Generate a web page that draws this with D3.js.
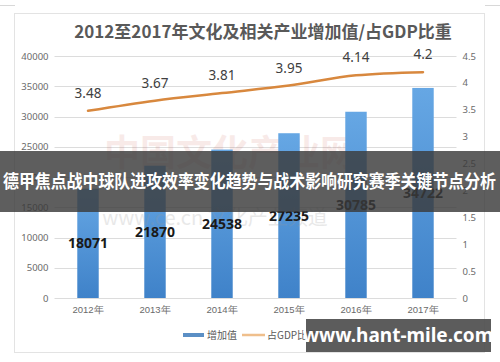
<!DOCTYPE html>
<html>
<head>
<meta charset="utf-8">
<script src="https://cdn.jsdelivr.net/npm/d3@7"></script>
<style>
html,body{margin:0;padding:0;background:#fff;}
svg{display:block;font-family:"Noto Sans CJK SC","Noto Sans",sans-serif;}
</style>
</head>
<body>
<svg id="chart" width="500" height="362"></svg>
<script>
const years = ["2012年","2013年","2014年","2015年","2016年","2017年"];
const addedValue = [18071,21870,24538,27235,30785,34722];
const gdpShare = [3.48,3.67,3.81,3.95,4.14,4.2];
const leftTicks = [0,5000,10000,15000,20000,25000,30000,35000,40000];
const rightTicks = [0,0.5,1,1.5,2,2.5,3,3.5,4,4.5];
const title = "2012至2017年文化及相关产业增加值/占GDP比重";
const legendLabels = ["增加值","占GDP比重"];
const bannerText = "德甲焦点战中球队进攻效率变化趋势与战术影响研究赛季关键节点分析";
const siteText = "www.hant-mile.com";

const svg = d3.select("#chart");
const W = 500, H = 362;
const plot = {left:54.5, right:456.5, top:56, bottom:298};

const defs = svg.append("defs");
const grad = defs.append("linearGradient").attr("id","barGrad").attr("x1",0).attr("y1",0).attr("x2",0).attr("y2",1);
grad.append("stop").attr("offset","0%").attr("stop-color","#66a7e4");
grad.append("stop").attr("offset","100%").attr("stop-color","#3f82c9");

// frame
svg.append("rect").attr("x",14.5).attr("y",13.5).attr("width",470).attr("height",339)
  .attr("fill","#fff").attr("stroke","#e3e3e3");
svg.append("line").attr("x1",0).attr("x2",15).attr("y1",5.5).attr("y2",5.5).attr("stroke","#d8d8d8");
svg.append("line").attr("x1",485).attr("x2",500).attr("y1",5.5).attr("y2",5.5).attr("stroke","#d8d8d8");

const x = d3.scaleBand().domain(years).range([plot.left, plot.right]).paddingInner(0.68).paddingOuter(0.34);
const yL = d3.scaleLinear().domain([0,40000]).range([plot.bottom, plot.top]);
const yR = d3.scaleLinear().domain([0,4.5]).range([plot.bottom, plot.top]);

svg.append("text").attr("x",263).attr("y",38).attr("text-anchor","middle")
  .attr("font-size",17).attr("font-weight","bold").attr("fill","#595959").text(title);

svg.append("g").selectAll("line").data(leftTicks).join("line")
  .attr("x1",plot.left).attr("x2",plot.right)
  .attr("y1",d=>Math.round(yL(d))+0.5).attr("y2",d=>Math.round(yL(d))+0.5)
  .attr("stroke","#dcdcdc").attr("stroke-width",1);

const axL = svg.append("g").attr("transform",`translate(${plot.left-6},0)`)
  .call(d3.axisLeft(yL).tickValues(leftTicks).tickSize(0).tickPadding(0).tickFormat(d3.format("d")));
axL.select(".domain").remove();
axL.selectAll("text").attr("font-size",9.5).attr("fill","#6a6a6a").attr("font-family","'Noto Sans',sans-serif");

const axR = svg.append("g").attr("transform",`translate(${plot.right+6},0)`)
  .call(d3.axisRight(yR).tickValues(rightTicks).tickSize(0).tickPadding(0).tickFormat(d3.format("")));
axR.select(".domain").remove();
axR.selectAll("text").attr("font-size",9.5).attr("fill","#6a6a6a").attr("font-family","'Noto Sans',sans-serif");

const axX = svg.append("g").attr("transform",`translate(0,${plot.bottom+6})`)
  .call(d3.axisBottom(x).tickSize(0).tickPadding(2));
axX.select(".domain").remove();
axX.selectAll("text").attr("font-size",9.5).attr("fill","#6a6a6a");

// faint watermark
svg.append("text").attr("x",230).attr("y",166).attr("text-anchor","middle")
  .attr("font-size",36).attr("font-weight","bold").attr("fill","#c0392b").attr("opacity",0.1).text("中国文化产业网");

svg.append("g").selectAll("rect").data(addedValue).join("rect")
  .attr("x",(d,i)=>x(years[i])).attr("width",x.bandwidth())
  .attr("y",d=>yL(d)).attr("height",d=>plot.bottom-yL(d))
  .attr("fill","url(#barGrad)");

svg.append("text").attr("x",215).attr("y",225).attr("text-anchor","middle")
  .attr("font-size",20).attr("fill","#9a9a9a").attr("opacity",0.22).text("www.ce.cn 文化产业频道");

svg.append("g").selectAll("text").data(addedValue).join("text")
  .attr("x",(d,i)=>x(years[i])+x.bandwidth()/2)
  .attr("y",d=>yL(d/2)+5)
  .attr("text-anchor","middle").attr("font-size",14).attr("font-weight","bold")
  .attr("fill","#1a1a1a").attr("font-family","'Noto Sans',sans-serif")
  .text(d=>d);

const line = d3.line().x((d,i)=>x(years[i])+x.bandwidth()/2).y(d=>yR(d)).curve(d3.curveMonotoneX);
svg.append("path").datum(gdpShare).attr("d",line).attr("fill","none")
  .attr("stroke","#d8883e").attr("stroke-width",2.5).attr("stroke-linecap","round");

svg.append("g").selectAll("text").data(gdpShare).join("text")
  .attr("x",(d,i)=>x(years[i])+x.bandwidth()/2)
  .attr("y",d=>yR(d)-13)
  .attr("text-anchor","middle").attr("font-size",13.5).attr("fill","#404040")
  .attr("font-family","'Noto Sans',sans-serif")
  .text(d=>d);

const lg = svg.append("g");
lg.append("rect").attr("x",183).attr("y",333).attr("width",21).attr("height",4).attr("fill","#5b8fc5");
lg.append("text").attr("x",207).attr("y",339).attr("font-size",10).attr("fill","#595959").text(legendLabels[0]);
lg.append("line").attr("x1",242).attr("x2",265).attr("y1",335).attr("y2",335).attr("stroke","#efbf8c").attr("stroke-width",2.5);
lg.append("text").attr("x",267).attr("y",339).attr("font-size",10).attr("fill","#595959").text(legendLabels[1]);

svg.append("rect").attr("x",0).attr("y",151).attr("width",W).attr("height",61)
  .attr("fill","#3a3a3a").attr("opacity",0.82);
svg.append("text").attr("x",3).attr("y",188).attr("font-size",18).attr("font-weight","bold")
  .attr("fill","#ffffff").attr("textLength",493).attr("lengthAdjust","spacingAndGlyphs").text(bannerText);

svg.append("rect").attr("x",306).attr("y",319).attr("width",185).attr("height",33)
  .attr("fill","#4a4a4a").attr("opacity",0.9);
svg.append("text").attr("x",398).attr("y",342).attr("text-anchor","middle").attr("font-size",19)
  .attr("font-weight","bold").attr("fill","#ffffff").attr("font-family","'Noto Sans','DejaVu Sans',sans-serif")
  .text(siteText);
</script>
</body>
</html>
